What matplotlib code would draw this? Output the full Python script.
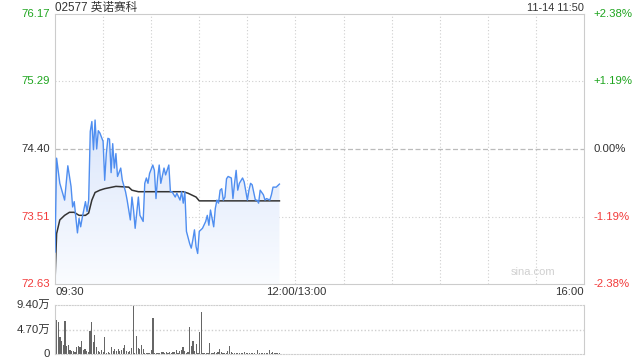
import numpy as np
import matplotlib
matplotlib.use("Agg")
import matplotlib.pyplot as plt
from matplotlib.colors import LinearSegmentedColormap

plt.rcParams['font.family'] = ['Liberation Sans', 'Noto Sans CJK SC', 'DejaVu Sans']

# 分时数据 (分钟, 从 09:30 起)
price_min = [0, 1, 3, 6, 8, 10, 11, 12, 14, 15, 16, 17, 19, 20, 21, 22, 23, 24, 25, 26,
             27, 28, 30, 31, 32, 33, 34, 35, 36, 37, 38, 39, 41, 42, 44, 45, 47, 48, 49, 50,
             52, 53, 55, 56, 57, 58, 59, 61, 62, 63, 64, 65, 66, 68, 69, 71, 72, 73, 75, 76,
             78, 79, 80, 81, 82, 84, 85, 86, 87, 88, 89, 90, 92, 94, 95, 96, 97, 99, 100, 101,
             102, 103, 104, 105, 106, 107, 108, 110, 111, 112, 113, 114, 115, 117, 118, 120, 121, 122, 123, 125,
             126, 127, 128, 130, 131, 132, 134, 135, 136, 138, 140]
price = [73.05, 74.28, 73.95, 73.73, 74.18, 73.91, 73.64, 73.71, 73.30, 73.49, 73.38, 73.50, 73.71, 73.58, 73.73, 74.63, 74.76, 74.39, 74.78, 74.40,
         74.64, 74.61, 74.50, 73.99, 74.34, 74.54, 74.53, 74.09, 74.47, 74.15, 74.34, 74.04, 74.15, 73.99, 73.84, 73.73, 73.47, 73.77, 73.60, 73.36,
         73.77, 73.53, 73.45, 73.95, 74.02, 73.95, 74.08, 74.19, 74.12, 73.75, 74.02, 74.19, 73.95, 74.15, 74.06, 74.19, 73.84, 73.84, 73.77, 73.82,
         73.73, 73.84, 73.69, 73.84, 73.32, 73.16, 73.10, 73.21, 73.34, 73.12, 73.03, 73.32, 73.36, 73.45, 73.53, 73.40, 73.60, 73.38, 73.62, 73.73,
         73.69, 73.86, 73.88, 73.73, 73.77, 74.01, 74.04, 74.02, 73.75, 73.95, 74.12, 73.86, 73.95, 74.02, 73.97, 73.73, 73.86, 73.95, 73.93, 73.73,
         73.73, 73.69, 73.86, 73.80, 73.73, 73.75, 73.73, 73.80, 73.90, 73.90, 73.94]

avg_min = [0, 1, 3, 6, 9, 12, 15, 19, 21, 23, 25, 28, 31, 38, 46, 48, 52, 80, 83, 88, 90, 140]
avg_price = [72.65, 73.29, 73.47, 73.53, 73.57, 73.57, 73.53, 73.53, 73.56, 73.73, 73.83, 73.86, 73.88, 73.91, 73.90, 73.86, 73.84, 73.84, 73.82, 73.77, 73.72, 73.72]

# 成交量 (万股)
volume = [6.14, 6.53, 6.14, 3.2, 2.43, 1.79, 6.4, 1.47, 1.66, 0.83, 0.51, 0.64, 0.32, 1.34, 1.47, 1.28, 2.43, 0.83, 1.02, 0.64,
          0.32, 4.48, 6.14, 2.3, 3.71, 1.28, 0.51, 0.32, 0.7, 0.38, 3.2, 0.19, 0.38, 0.1, 1.28, 0.51, 0.96, 0.51, 0.96, 0.51,
          0.83, 1.15, 1.66, 0.51, 0.38, 0.51, 1.15, 9.4, 0.19, 3.39, 1.15, 1.02, 1.66, 1.02, 0.19, 0.19, 0.1, 0.19, 0.83, 6.91,
          0.1, 0.1, 0.19, 0.26, 0.32, 0.38, 0.19, 0.38, 0.19, 0.38, 0.19, 0.38, 0.32, 0.83, 0.19, 0.64, 0.83, 1.34, 0.64, 0.1,
          0.38, 5.18, 1.47, 2.56, 0.51, 1.92, 0.19, 4.22, 8.06, 0.19, 0.19, 0.1, 0.1, 2.11, 0.1, 0.19, 0.38, 0.19, 0.38, 0.96,
          0.38, 0.19, 0.19, 0.1, 0.51, 1.47, 0.38, 0.19, 0.1, 0.1, 0.1, 0.1, 0.1, 0.1, 0.38, 0.19, 0.1, 0.1, 0.1, 0.1,
          0.1, 0.06, 0.7, 0.19, 0.19, 0.1, 0.1, 0.19, 0.1, 0.7, 0.19, 0.32, 0.19, 0.19, 0.1, 0.1]

prev_close = 74.40
y_ticks = [72.63, 73.51, 74.40, 75.29, 76.17]
pct_labels = ['-2.38%', '-1.19%', '0.00%', '+1.19%', '+2.38%']
vol_ticks = [0, 4.70, 9.40]
vol_labels = ['0', '4.70万', '9.40万']
title = '02577 英诺赛科'
stamp = '11-14 11:50'

GREEN = '#1fa51f'
RED = '#f23a3a'
GRID = '#cfcfcf'
TXT = '#333333'

fig = plt.figure(figsize=(6.4, 3.6), dpi=100)
ax = fig.add_axes([55 / 640, 1 - 284 / 360, 529 / 640, 270 / 360])
axv = fig.add_axes([55 / 640, 1 - 354 / 360, 529 / 640, 49 / 360])

ymin, ymax = y_ticks[0], y_ticks[-1]
ax.set_xlim(0, 330)
ax.set_ylim(ymin, ymax)

# grid
for gx in range(30, 330, 30):
    ax.axvline(gx, color=GRID, lw=0.8, ls=(0, (1, 2)), zorder=0)
for gy in [y_ticks[1], y_ticks[3]]:
    ax.axhline(gy, color=GRID, lw=0.8, ls=(0, (1, 2)), zorder=0)
ax.axhline(prev_close, color='#bbbbbb', lw=0.9, ls=(0, (4, 2)), zorder=0)

# gradient fill under price
poly = ax.fill_between(price_min, price, ymin, color='none', lw=0)
cmap = LinearSegmentedColormap.from_list('g', ['#fafcff', '#dbe6fb'])
grad = np.linspace(0, 1, 256).reshape(-1, 1)
im = ax.imshow(grad, cmap=cmap, aspect='auto', origin='lower',
               extent=[0, 140, ymin, max(price)], zorder=1)
im.set_clip_path(poly.get_paths()[0], transform=ax.transData)

ax.plot(price_min, price, color='#4f8ef0', lw=1.0, zorder=3)
ax.plot(avg_min, avg_price, color='#333333', lw=1.1, zorder=2)

for s in ax.spines.values():
    s.set_color('#cccccc')
ax.set_xticks([])
ax.set_yticks([])

# y labels
for v, p in zip(y_ticks, pct_labels):
    c = GREEN if v > prev_close + 0.001 else (RED if v < prev_close - 0.001 else TXT)
    ax.text(-3, v, f'{v:.2f}', color=c, fontsize=8.2, ha='right', va='center')
    ax.text(336, v, p, color=c, fontsize=8.2, ha='left', va='center')

# time labels
fig.text(55 / 640, 1 - 292 / 360, '09:30', fontsize=8.2, ha='left', va='center', color=TXT)
fig.text(296 / 640, 1 - 292 / 360, '12:00/13:00', fontsize=8.2, ha='center', va='center', color=TXT)
fig.text(584 / 640, 1 - 292 / 360, '16:00', fontsize=8.2, ha='right', va='center', color=TXT)

fig.text(55 / 640, 1 - 7.5 / 360, title, fontsize=8.4, ha='left', va='center', color=TXT)
fig.text(584 / 640, 1 - 8 / 360, stamp, fontsize=7.8, ha='right', va='center', color=TXT)
ax.text(0.945, 0.025, 'sina.com', transform=ax.transAxes, fontsize=8, ha='right', va='bottom', color='#d0d0d0')

# volume
vol_x = np.linspace(0, 140, len(volume))
axv.bar(vol_x, volume, width=0.75, color='#666666', zorder=2)
axv.set_xlim(0, 330)
axv.set_ylim(0, 9.4)
axv.axhline(4.70, color=GRID, lw=1.0, ls=(0, (1, 1.5)), zorder=0)
for side in ['top', 'bottom']:
    axv.spines[side].set_color(GRID)
    axv.spines[side].set_linestyle((0, (1, 1.5)))
for side in ['left', 'right']:
    axv.spines[side].set_color('#cccccc')
axv.set_xticks([])
axv.set_yticks([])
for v, l in zip(vol_ticks, vol_labels):
    axv.text(-3, v, l, fontsize=8.2, ha='right', va='center', color=TXT)

fig.savefig('out.png', dpi=100)
